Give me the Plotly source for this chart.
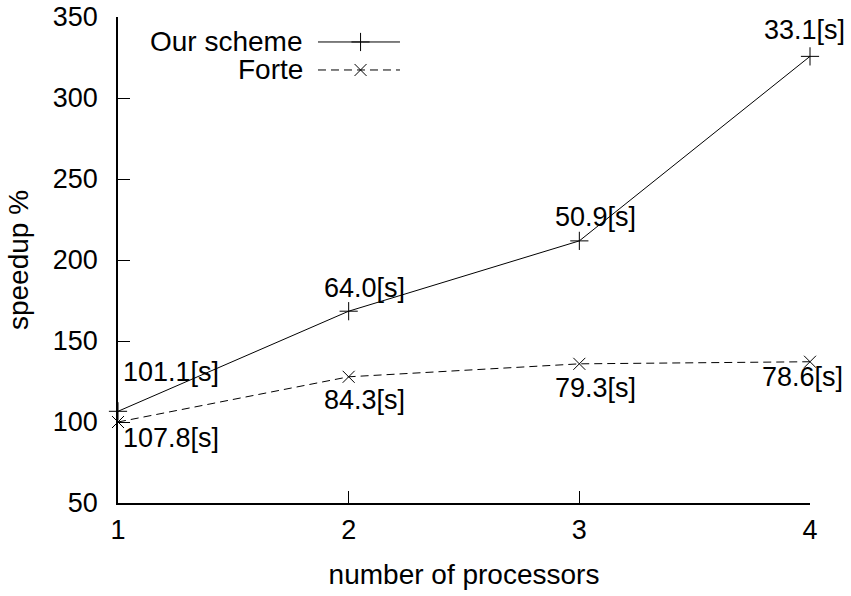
import plotly.graph_objects as go

processors = [1, 2, 3, 4]
our_speedup = [106.6, 168.4, 211.8, 325.7]
forte_speedup = [100.0, 127.9, 135.9, 137.2]
our_times = ["101.1[s]", "64.0[s]", "50.9[s]", "33.1[s]"]
forte_times = ["107.8[s]", "84.3[s]", "79.3[s]", "78.6[s]"]
series_names = ["Our scheme", "Forte"]
y_ticks = [50, 100, 150, 200, 250, 300, 350]
x_ticks = [1, 2, 3, 4]

FONT = "Liberation Sans, Arial, Helvetica, sans-serif"
FS = 28     # titles / legend
FN = 27     # numbers

fig = go.Figure()

fig.add_trace(go.Scatter(
    x=processors, y=our_speedup, mode="lines+markers", name=series_names[0],
    line=dict(color="black", width=1),
    marker=dict(symbol="cross-thin", size=13, line=dict(color="black", width=1)),
    cliponaxis=False, showlegend=False))
fig.add_trace(go.Scatter(
    x=processors, y=forte_speedup, mode="lines+markers", name=series_names[1],
    line=dict(color="black", width=1, dash="8px,5px"),
    marker=dict(symbol="x-thin", size=12, line=dict(color="black", width=1)),
    cliponaxis=False, showlegend=False))

# custom gnuplot-style legend (text left, sample right) on an overlay axis in [0,1]
leg_rows = [0.9486, 0.891]
leg_styles = [
    (dict(color="black", width=1), dict(symbol="cross-thin", size=13, line=dict(color="black", width=1))),
    (dict(color="black", width=1, dash="8px,5px"), dict(symbol="x-thin", size=12, line=dict(color="black", width=1))),
]
for name, yr, (ln, mk) in zip(series_names, leg_rows, leg_styles):
    fig.add_trace(go.Scatter(x=[0.289, 0.4075], y=[yr, yr], mode="lines", line=ln,
                             xaxis="x2", yaxis="y2", showlegend=False, hoverinfo="skip", cliponaxis=False))
    fig.add_trace(go.Scatter(x=[0.3505], y=[yr], mode="markers", marker=mk,
                             xaxis="x2", yaxis="y2", showlegend=False, hoverinfo="skip", cliponaxis=False))
    fig.add_annotation(x=0.2705, y=yr, xref="x2", yref="y2", text=name, showarrow=False,
                       xanchor="right", yanchor="middle", font=dict(family=FONT, size=FS, color="black"))

# data labels
our_off = [(3, -39), (-27, -23), (-26, -24), (-48, -26)]
forte_off = [(3, 16), (-27, 23), (-26, 24), (-50, 15)]
for xs, ys, labels, offs in [(processors, our_speedup, our_times, our_off),
                             (processors, forte_speedup, forte_times, forte_off)]:
    for xv, yv, lab, (dx, dy) in zip(xs, ys, labels, offs):
        fig.add_annotation(x=xv, y=yv, text=lab, showarrow=False, xanchor="left", yanchor="middle",
                           xshift=dx, yshift=-dy, font=dict(family=FONT, size=FN, color="black"))

fig.update_layout(
    width=851, height=596,
    margin=dict(l=118, r=41, t=17, b=93, autoexpand=False),
    paper_bgcolor="white", plot_bgcolor="white",
    font=dict(family=FONT, size=FN, color="black"),
    xaxis=dict(range=[1, 4], tickvals=x_ticks, ticks="inside", ticklen=12, tickwidth=1,
               tickcolor="black", showline=True, linecolor="black", linewidth=1.5,
               showgrid=False, zeroline=False, ticklabelstandoff=2, automargin=False,
               tickfont=dict(size=FN),
               title=dict(text="number of processors", font=dict(size=FS), standoff=20)),
    yaxis=dict(range=[50, 350], tickvals=y_ticks, ticks="inside", ticklen=12, tickwidth=1,
               tickcolor="black", showline=True, linecolor="black", linewidth=1.5,
               showgrid=False, zeroline=False, ticklabelstandoff=13, automargin=False,
               tickfont=dict(size=FN),
               title=dict(text="speedup %", font=dict(size=FS), standoff=16)),
    xaxis2=dict(range=[0, 1], overlaying="x", visible=False, fixedrange=True),
    yaxis2=dict(range=[0, 1], overlaying="y", visible=False, fixedrange=True),
    showlegend=False,
)

fig.write_html("out.html", config={"displayModeBar": False},
               post_script="document.body.style.margin='0';")
